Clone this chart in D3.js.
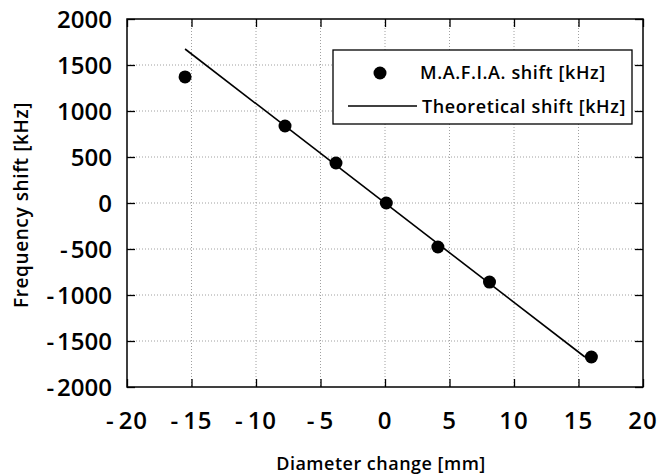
<!DOCTYPE html>
<html>
<head>
<meta charset="utf-8">
<script src="https://cdn.jsdelivr.net/npm/d3@7"></script>
<style>
  body { margin: 0; background: #fff; }
  text { font-family: "Open Sans", "DejaVu Sans", sans-serif; fill: #000; font-weight: 600; }
</style>
</head>
<body>
<div id="vis"></div>
<script>
// values
var mafiaX = [-15.5, -7.75, -3.8, 0.1, 4.1, 8.1, 16.0];
var mafiaY = [1370, 837, 435, 0, -478, -860, -1674];
var theoryX = [-15.5, 15.5];
var theoryY = [1674, -1674];
var xTicks = [-20, -15, -10, -5, 0, 5, 10, 15, 20];
var yTicks = [-2000, -1500, -1000, -500, 0, 500, 1000, 1500, 2000];
var legendLabels = ["M.A.F.I.A. shift [kHz]", "Theoretical shift [kHz]"];

var width = 660;
var height = 475;
var margin = { left: 127, right: 17, top: 19, bottom: 88 };

var svg = d3
  .select("#vis")
  .append("svg")
  .attr("width", width)
  .attr("height", height);

var x = d3.scaleLinear().domain([-20, 20]).range([margin.left, width - margin.right]);
var y = d3.scaleLinear().domain([-2000, 2000]).range([height - margin.bottom, margin.top]);

// grid
var grid = svg.append("g").attr("class", "grid");
grid.selectAll("line.gx")
  .data(xTicks.slice(1, -1))
  .enter()
  .append("line")
  .attr("x1", function(d) { return x(d); })
  .attr("x2", function(d) { return x(d); })
  .attr("y1", y(2000))
  .attr("y2", y(-2000))
  .attr("stroke", "#888")
  .attr("stroke-width", 0.8)
  .attr("stroke-dasharray", "1,2");
grid.selectAll("line.gy")
  .data(yTicks.slice(1, -1))
  .enter()
  .append("line")
  .attr("y1", function(d) { return y(d); })
  .attr("y2", function(d) { return y(d); })
  .attr("x1", x(-20))
  .attr("x2", x(20))
  .attr("stroke", "#888")
  .attr("stroke-width", 0.8)
  .attr("stroke-dasharray", "1,2");

// frame with inward ticks on all sides
var tickLen = 8;
svg.append("g")
  .attr("transform", "translate(0," + y(-2000) + ")")
  .call(d3.axisTop(x).tickValues(xTicks).tickSize(tickLen).tickFormat(""))
  .call(function(g) { g.select(".domain").remove(); });
svg.append("g")
  .attr("transform", "translate(0," + y(2000) + ")")
  .call(d3.axisBottom(x).tickValues(xTicks).tickSize(tickLen).tickFormat(""))
  .call(function(g) { g.select(".domain").remove(); });
svg.append("g")
  .attr("transform", "translate(" + x(-20) + ",0)")
  .call(d3.axisRight(y).tickValues(yTicks).tickSize(tickLen).tickFormat(""))
  .call(function(g) { g.select(".domain").remove(); });
svg.append("g")
  .attr("transform", "translate(" + x(20) + ",0)")
  .call(d3.axisLeft(y).tickValues(yTicks).tickSize(tickLen).tickFormat(""))
  .call(function(g) { g.select(".domain").remove(); });
svg.selectAll(".tick line").attr("stroke", "#000").attr("stroke-width", 1.3);

svg.append("rect")
  .attr("x", x(-20))
  .attr("y", y(2000))
  .attr("width", x(20) - x(-20))
  .attr("height", y(-2000) - y(2000))
  .attr("fill", "none")
  .attr("stroke", "#000")
  .attr("stroke-width", 1.5);

// tick labels: minus sign set a little apart, like the original
function signedLabel(sel, gap) {
  sel.each(function(d) {
    var t = d3.select(this);
    if (d < 0) {
      t.append("tspan").text("-");
      t.append("tspan").attr("dx", gap).text(Math.abs(d));
    } else {
      t.text(d);
    }
  });
}

svg.selectAll("text.xl")
  .data(xTicks)
  .enter()
  .append("text")
  .attr("x", function(d) { return x(d); })
  .attr("y", 429)
  .attr("text-anchor", "middle")
  .style("font-size", "24px")
  .style("letter-spacing", "1px")
  .call(signedLabel, 4);
svg.selectAll("text.yl")
  .data(yTicks)
  .enter()
  .append("text")
  .attr("x", 112)
  .attr("y", function(d) { return y(d) + 9; })
  .attr("text-anchor", "end")
  .style("font-size", "24px")
  .call(signedLabel, 3);

// axis titles
svg.append("text")
  .attr("x", 381)
  .attr("y", 470)
  .attr("text-anchor", "middle")
  .style("font-size", "18px")
  .style("letter-spacing", "0.5px")
  .text("Diameter change [mm]");
svg.append("text")
  .attr("transform", "translate(28,205) rotate(-90)")
  .attr("text-anchor", "middle")
  .style("font-size", "19px")
  .style("letter-spacing", "0.6px")
  .text("Frequency shift [kHz]");

// theoretical line
svg.append("path")
  .datum(d3.zip(theoryX, theoryY))
  .attr("fill", "none")
  .attr("stroke", "#000")
  .attr("stroke-width", 1.6)
  .attr("d", d3.line().x(function(d) { return x(d[0]); }).y(function(d) { return y(d[1]); }));

// M.A.F.I.A. points
svg.selectAll("circle.pt")
  .data(d3.zip(mafiaX, mafiaY))
  .enter()
  .append("circle")
  .attr("cx", function(d) { return x(d[0]); })
  .attr("cy", function(d) { return y(d[1]); })
  .attr("r", 6.5)
  .attr("fill", "#000");

// legend
var legend = svg.append("g").attr("transform", "translate(333,50)");
legend.append("rect")
  .attr("width", 299)
  .attr("height", 74)
  .attr("fill", "#fff")
  .attr("stroke", "#000")
  .attr("stroke-width", 1.3);
legend.append("circle").attr("cx", 47).attr("cy", 23).attr("r", 6.5).attr("fill", "#000");
legend.append("line")
  .attr("x1", 15).attr("x2", 84)
  .attr("y1", 56).attr("y2", 56)
  .attr("stroke", "#000").attr("stroke-width", 1.4);
legend.append("text").attr("x", 87).attr("y", 29).style("font-size", "18px").style("letter-spacing", "0.6px").text(legendLabels[0]);
legend.append("text").attr("x", 89).attr("y", 63).style("font-size", "18px").style("letter-spacing", "0.6px").text(legendLabels[1]);
</script>
</body>
</html>
